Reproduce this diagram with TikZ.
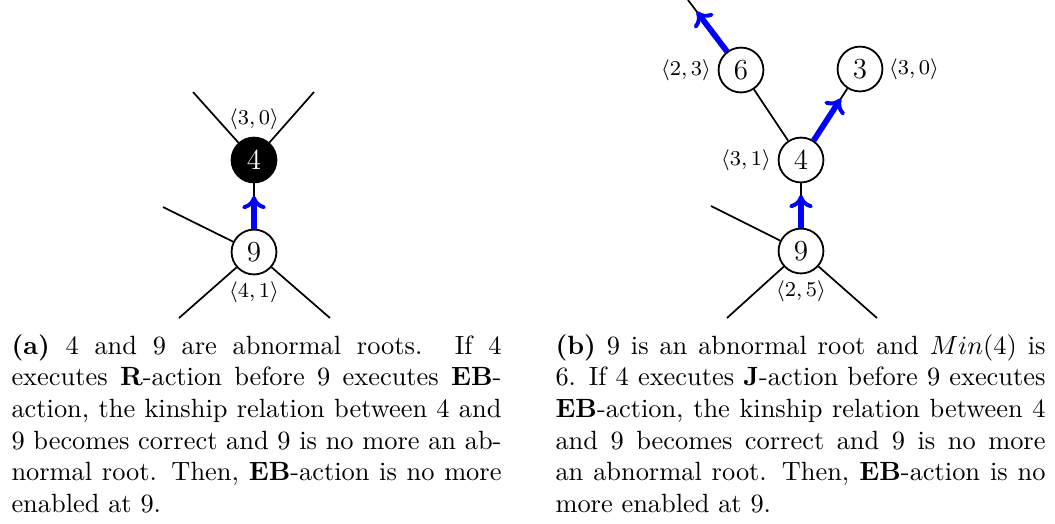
\documentclass[tikz,border=0pt]{standalone}
\usetikzlibrary{arrows.meta,calc}
\begin{document}
\begin{tikzpicture}[x=0.379pt,y=-0.379pt,
  proc/.style={circle,draw,line width=0.68pt,minimum size=17pt,inner sep=0pt,font=\fontsize{11}{13}\selectfont},
  rootnode/.style={proc,fill=black,text=white},
  lab/.style={font=\footnotesize,inner sep=0pt},
  edge/.style={line width=0.65pt},
  barrow/.style={blue,line width=2.2pt,-{Computer Modern Rightarrow[length=5pt,width=9pt,line width=1.5pt]}},
  captext/.style={text width=185.7pt,align=justify,inner sep=0pt,anchor=north west,font=\normalsize}]
\useasboundingbox (0,0) rectangle (1055,523);

% ---------- (a) ----------
\node[rootnode] (a4) at (254,160) {4};
\node[proc] (a9) at (254,252) {9};
\coordinate (a4l) at (193,92);
\coordinate (a4r) at (314,92);
\coordinate (a9l) at (163,207);
\coordinate (a9bl) at (179,318);
\coordinate (a9br) at (330,318);
\draw[edge] (a4) -- (a4l);
\draw[edge] (a4) -- (a4r);
\draw[edge] (a9) -- (a4);
\draw[edge] (a9) -- (a9l);
\draw[edge] (a9) -- (a9bl);
\draw[edge] (a9) -- (a9br);
\draw[barrow] (a9) -- ($(a9)!21.2pt!(a4)$);
\node[lab] (la4) at (254,119) {$\langle 3,0\rangle$};
\node[lab] (la9) at (254,292) {$\langle 4,1\rangle$};

% ---------- (b) ----------
\node[proc] (b6) at (741,70) {6};
\node[proc] (b3) at (860,69) {3};
\node[proc] (b4) at (801,160) {4};
\node[proc] (b9) at (801,251) {9};
\coordinate (b6t) at (688,0);
\coordinate (b9l) at (711,206);
\coordinate (b9bl) at (727,318);
\coordinate (b9br) at (877,318);
\draw[edge] (b6) -- (b6t);
\draw[edge] (b6) -- (b4);
\draw[edge] (b4) -- (b3);
\draw[edge] (b9) -- (b4);
\draw[edge] (b9) -- (b9l);
\draw[edge] (b9) -- (b9bl);
\draw[edge] (b9) -- (b9br);
\draw[barrow] (b6) -- ($(b6)!27.7pt!(b6t)$);
\draw[barrow] (b4) -- ($(b4)!27.7pt!(b3)$);
\draw[barrow] (b9) -- ($(b9)!21.2pt!(b4)$);
\node[lab] (lb6) at (686,70) {$\langle 2,3\rangle$};
\node[lab] (lb3) at (914,69) {$\langle 3,0\rangle$};
\node[lab] (lb4) at (746,160) {$\langle 3,1\rangle$};
\node[lab] (lb9) at (801,291) {$\langle 2,5\rangle$};

% ---------- captions ----------
\node[captext] (capa) at (11,334) {\textbf{(a)} 4 and 9 are abnormal roots. If 4\linebreak
executes \textbf{R}-action before 9 executes \textbf{EB}-\linebreak
action, the kinship relation between 4 and\linebreak
9 becomes correct and 9 is no more an ab-\linebreak
normal root. Then, \textbf{EB}-action is no more\linebreak
enabled at 9.};
\node[captext] (capb) at (555,334) {\textbf{(b)} 9 is an abnormal root and $Min(4)$ is\linebreak
6. If 4 executes \textbf{J}-action before 9 executes\linebreak
\textbf{EB}-action, the kinship relation between 4\linebreak
and 9 becomes correct and 9 is no more\linebreak
an abnormal root. Then, \textbf{EB}-action is no\linebreak
more enabled at 9.};
\end{tikzpicture}
\end{document}
